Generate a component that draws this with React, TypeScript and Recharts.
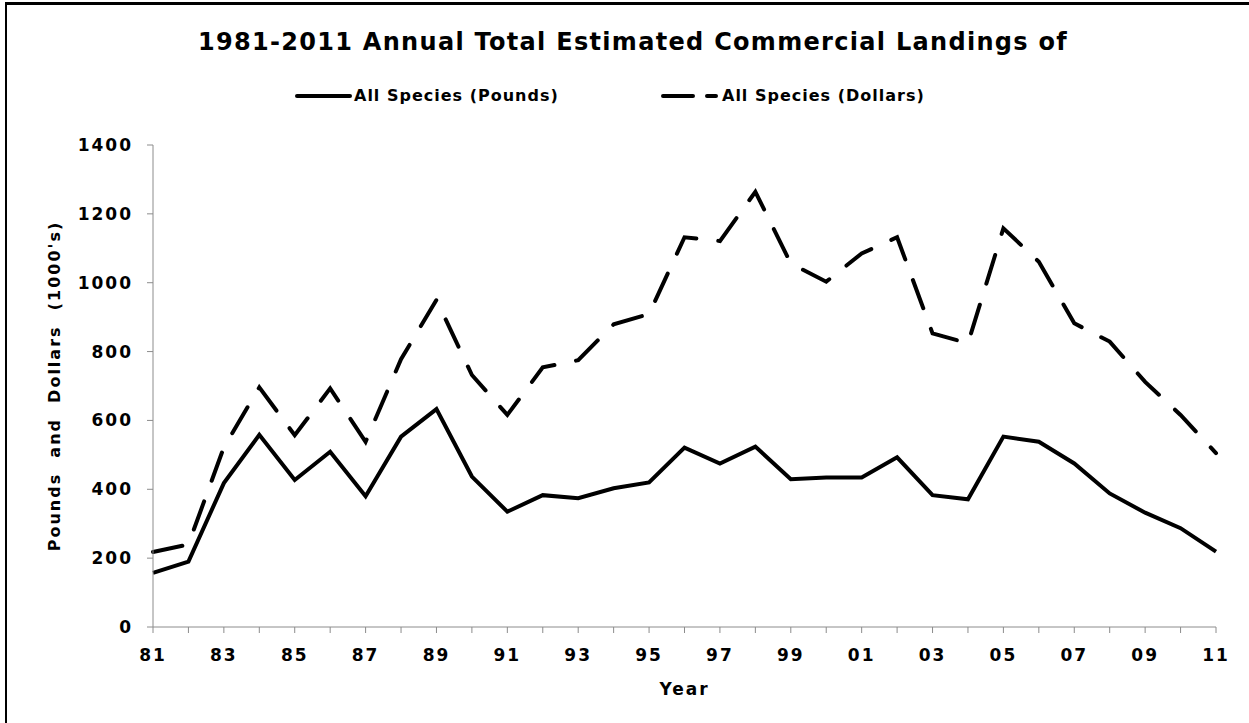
import React from "react";
import { Label, Line, LineChart, XAxis, YAxis } from "recharts";

const years = [
  "81", "82", "83", "84", "85", "86", "87", "88", "89", "90",
  "91", "92", "93", "94", "95", "96", "97", "98", "99", "00",
  "01", "02", "03", "04", "05", "06", "07", "08", "09", "10", "11"
];

// thousands of pounds
const pounds = [
  157, 190, 418, 558, 427, 509, 380, 553, 633, 437,
  335, 383, 374, 403, 420, 521, 475, 524, 429, 434,
  434, 493, 383, 371, 553, 538, 475, 388, 332, 287, 219
];

// thousands of dollars
const dollars = [
  218, 240, 522, 696, 557, 693, 538, 778, 950, 732,
  616, 754, 775, 879, 909, 1132, 1121, 1264, 1056, 1003,
  1085, 1132, 853, 824, 1158, 1061, 882, 829, 712, 616, 505
];

const yTicks = [0, 200, 400, 600, 800, 1000, 1200, 1400];

const FONT = "'DejaVu Sans', Verdana, sans-serif";
const AXIS = "#8c8c8c";

function ChartLegend() {
  const text: React.CSSProperties = {
    position: "absolute",
    top: 0,
    fontFamily: FONT,
    fontWeight: 700,
    fontSize: 16,
    letterSpacing: 1,
    lineHeight: "22px",
    color: "#000",
    whiteSpace: "nowrap"
  };
  return (
    <div style={{ position: "absolute", left: 0, top: 85, width: 1249, height: 22 }}>
      <svg style={{ position: "absolute", left: 294, top: 0 }} width={60} height={22}>
        <line x1={3} y1={11} x2={56} y2={11} stroke="#000" strokeWidth={4} strokeLinecap="round" />
      </svg>
      <span style={{ ...text, left: 354 }}>All Species (Pounds)</span>
      <svg style={{ position: "absolute", left: 660, top: 0 }} width={60} height={22}>
        <line x1={3} y1={11} x2={56} y2={11} stroke="#000" strokeWidth={4} strokeLinecap="round" strokeDasharray="30 14" />
      </svg>
      <span style={{ ...text, left: 722 }}>All Species (Dollars)</span>
    </div>
  );
}

export default function App() {
  const data = years.map((y, i) => ({ year: y, pounds: pounds[i], dollars: dollars[i] }));
  const tickStyle = { fill: "#000", fontSize: 17, fontWeight: 700, fontFamily: FONT, letterSpacing: 2 };

  return (
    <div style={{ position: "absolute", left: 0, top: 0, width: 1249, height: 723, background: "#fff" }}>
      {/* frame: only the top and left edges fall inside the picture */}
      <div
        style={{
          position: "absolute",
          left: 5,
          top: 2,
          width: 1250,
          height: 730,
          borderTop: "3px solid #000",
          borderLeft: "2px solid #000"
        }}
      />
      <div
        style={{
          position: "absolute",
          top: 28,
          left: 0,
          width: 1266,
          textAlign: "center",
          fontFamily: FONT,
          fontWeight: 700,
          fontSize: 24,
          lineHeight: "normal",
          letterSpacing: 1.3,
          color: "#000",
          whiteSpace: "nowrap"
        }}
      >
        1981-2011 Annual Total Estimated Commercial Landings of
      </div>
      <ChartLegend />
      <LineChart
        width={1249}
        height={723}
        data={data}
        margin={{ top: 145, right: 33, left: 0, bottom: 0 }}
        style={{ position: "absolute", left: 0, top: 0 }}
      >
        <XAxis
          dataKey="year"
          height={96}
          interval={0}
          stroke={AXIS}
          tickSize={6}
          tickMargin={16}
          tickFormatter={(v, i) => (i % 2 === 0 ? v : "")}
          tick={tickStyle}
        >
          <Label
            value="Year"
            position="insideBottom"
            offset={28}
            style={{ fill: "#000", fontSize: 17, fontWeight: 700, fontFamily: FONT, letterSpacing: 2 }}
          />
        </XAxis>
        <YAxis
          width={153}
          domain={[0, 1400]}
          ticks={yTicks}
          stroke={AXIS}
          tickSize={6}
          tickMargin={14}
          tick={tickStyle}
        >
          <Label
            value={"Pounds\u00a0\u00a0and\u00a0\u00a0Dollars\u00a0\u00a0(1000's)"}
            angle={-90}
            position="insideLeft"
            offset={54}
            style={{
              fill: "#000",
              fontSize: 16,
              fontWeight: 700,
              fontFamily: FONT,
              letterSpacing: 2,
              textAnchor: "middle"
            }}
          />
        </YAxis>
        <Line
          type="linear"
          dataKey="dollars"
          stroke="#000"
          strokeWidth={4}
          strokeDasharray="30 22"
          strokeLinecap="round"
          dot={false}
          activeDot={false}
          isAnimationActive={false}
        />
        <Line
          type="linear"
          dataKey="pounds"
          stroke="#000"
          strokeWidth={4}
          dot={false}
          activeDot={false}
          isAnimationActive={false}
        />
      </LineChart>
    </div>
  );
}
